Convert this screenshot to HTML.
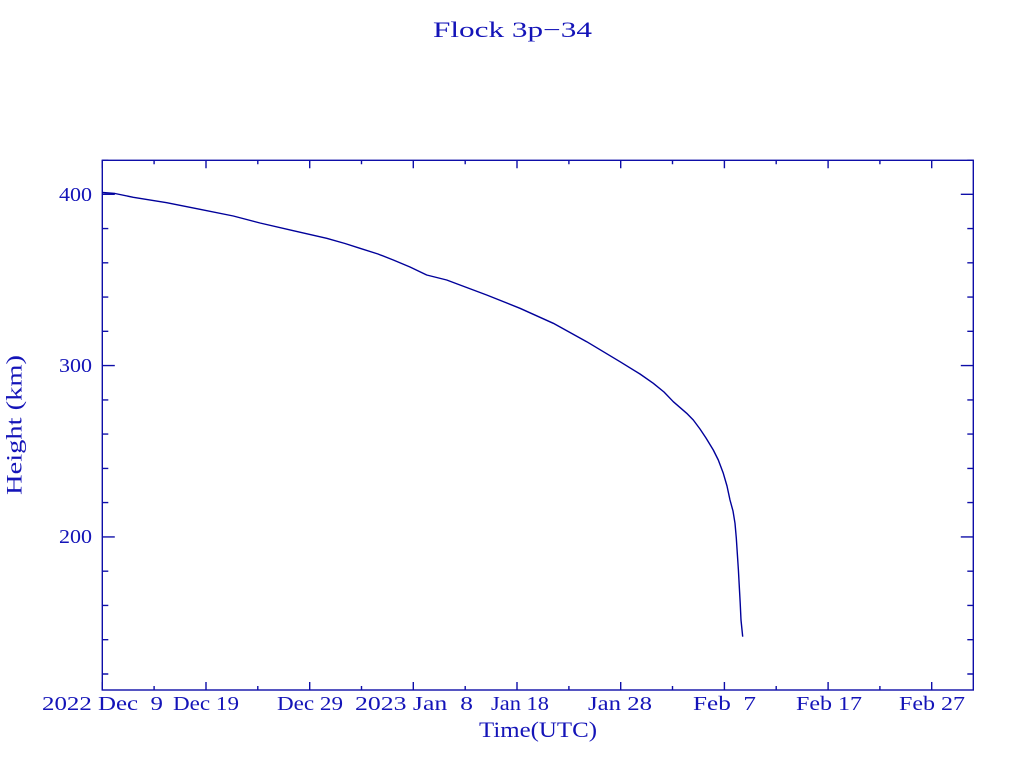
<!DOCTYPE html>
<html>
<head>
<meta charset="utf-8">
<style>
html,body{margin:0;padding:0;background:#ffffff;}
svg{display:block;}
text{font-family:"Liberation Serif",serif;fill:#1414b8;white-space:pre;}
</style>
</head>
<body>
<svg width="1024" height="768" viewBox="0 0 1024 768" xmlns="http://www.w3.org/2000/svg">
<rect x="0" y="0" width="1024" height="768" fill="#ffffff"/>
<!-- title -->
<text x="433" y="37" font-size="22" textLength="159" lengthAdjust="spacingAndGlyphs">Flock 3p−34</text>

<!-- frame -->
<g stroke="#0e0ea8" stroke-width="1.4" fill="none">
<rect x="102.3" y="160.3" width="871" height="529.7"/>
<path d="
M102.3 690v-8 M154.1 690v-4 M206 690v-8 M257.8 690v-4 M309.7 690v-8 M361.5 690v-4 M413.3 690v-8 M465.2 690v-4 M517 690v-8 M568.9 690v-4 M620.7 690v-8 M672.5 690v-4 M724.4 690v-8 M776.2 690v-4 M828.1 690v-8 M879.9 690v-4 M931.7 690v-8
M102.3 160.3v8 M154.1 160.3v4 M206 160.3v8 M257.8 160.3v4 M309.7 160.3v8 M361.5 160.3v4 M413.3 160.3v8 M465.2 160.3v4 M517 160.3v8 M568.9 160.3v4 M620.7 160.3v8 M672.5 160.3v4 M724.4 160.3v8 M776.2 160.3v4 M828.1 160.3v8 M879.9 160.3v4 M931.7 160.3v8
"/>
<path d="
M102.3 194.3h12.5 M102.3 365.6h12.5 M102.3 536.9h12.5
M102.3 160.3h6 M102.3 228.6h6 M102.3 262.8h6 M102.3 297.1h6 M102.3 331.3h6 M102.3 399.9h6 M102.3 434.1h6 M102.3 468.4h6 M102.3 502.6h6 M102.3 571.2h6 M102.3 605.4h6 M102.3 639.7h6 M102.3 674h6
M973.3 194.3h-12.5 M973.3 365.6h-12.5 M973.3 536.9h-12.5
M973.3 160.3h-6 M973.3 228.6h-6 M973.3 262.8h-6 M973.3 297.1h-6 M973.3 331.3h-6 M973.3 399.9h-6 M973.3 434.1h-6 M973.3 468.4h-6 M973.3 502.6h-6 M973.3 571.2h-6 M973.3 605.4h-6 M973.3 639.7h-6 M973.3 674h-6
"/>
</g>

<!-- curve -->
<polyline fill="none" stroke="#00009a" stroke-width="1.4" stroke-linejoin="round" points="
102.3,192.5 115,193.5 133.3,197.3 166.7,202.7 200,209.3 233.3,216 260,223 293.3,230.7 326.7,238.3 345,243.5 360,248.3 378,254 393.3,260 410,267 426.7,275
446.7,280 460,285 486.7,295 520,308.3 553.3,323.3 586.7,341.7 620,361.7 640,374 653.3,383.3 664,392 673.3,401.7 686.7,413.3 693.3,420 700,429 706,438 713.3,450 718.3,460 723.3,473.3 727,486 730,500 733,511 735,523.3 736.3,538 737.3,553.3 738.4,570 739.3,586.7 740.2,603 741,620 742.7,636.7"/>

<!-- y tick labels -->
<text x="59" y="201" font-size="20" textLength="33" lengthAdjust="spacingAndGlyphs">400</text>
<text x="59" y="372" font-size="20" textLength="33" lengthAdjust="spacingAndGlyphs">300</text>
<text x="59" y="543" font-size="20" textLength="33" lengthAdjust="spacingAndGlyphs">200</text>

<!-- x tick labels -->
<g font-size="20">
<text x="42" y="710" textLength="121" lengthAdjust="spacingAndGlyphs">2022 Dec&#160;&#160;9</text>
<text x="173" y="710" textLength="66" lengthAdjust="spacingAndGlyphs">Dec 19</text>
<text x="277" y="710" textLength="66" lengthAdjust="spacingAndGlyphs">Dec 29</text>
<text x="355" y="710" textLength="118" lengthAdjust="spacingAndGlyphs">2023 Jan&#160;&#160;8</text>
<text x="491" y="710" textLength="58" lengthAdjust="spacingAndGlyphs">Jan 18</text>
<text x="588" y="710" textLength="64" lengthAdjust="spacingAndGlyphs">Jan 28</text>
<text x="693" y="710" textLength="63" lengthAdjust="spacingAndGlyphs">Feb&#160;&#160;7</text>
<text x="796" y="710" textLength="66" lengthAdjust="spacingAndGlyphs">Feb 17</text>
<text x="899" y="710" textLength="66" lengthAdjust="spacingAndGlyphs">Feb 27</text>
</g>

<!-- axis titles -->
<text x="479" y="737" font-size="22" textLength="118" lengthAdjust="spacingAndGlyphs">Time(UTC)</text>
<text transform="translate(21.5,495) rotate(-90)" x="0" y="0" font-size="22" textLength="140" lengthAdjust="spacingAndGlyphs">Height (km)</text>
</svg>
</body>
</html>
